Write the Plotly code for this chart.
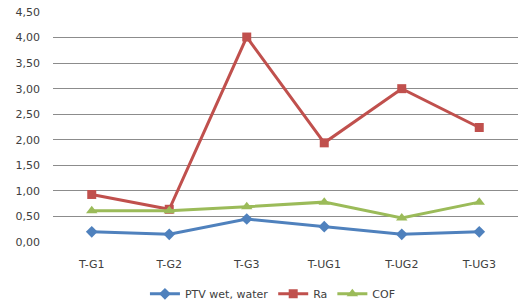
import plotly.graph_objects as go

categories = ["T-G1", "T-G2", "T-G3", "T-UG1", "T-UG2", "T-UG3"]
ptv = [0.20, 0.15, 0.45, 0.30, 0.15, 0.20]
ra = [0.93, 0.64, 4.01, 1.94, 3.00, 2.24]
cof = [0.61, 0.61, 0.69, 0.78, 0.47, 0.78]
ytick_vals = [0, 0.5, 1.0, 1.5, 2.0, 2.5, 3.0, 3.5, 4.0, 4.5]
ytick_text = ["0,00", "0,50", "1,00", "1,50", "2,00", "2,50", "3,00", "3,50", "4,00", "4,50"]

fig = go.Figure()
fig.add_trace(go.Scatter(x=categories, y=ptv, name="PTV wet, water", mode="lines+markers",
                         line=dict(color="#4F81BD", width=3),
                         marker=dict(symbol="diamond", size=9, color="#4F81BD")))
fig.add_trace(go.Scatter(x=categories, y=ra, name="Ra", mode="lines+markers",
                         line=dict(color="#C0504D", width=3),
                         marker=dict(symbol="square", size=9, color="#C0504D")))
fig.add_trace(go.Scatter(x=categories, y=cof, name="COF", mode="lines+markers",
                         line=dict(color="#9BBB59", width=3),
                         marker=dict(symbol="triangle-up", size=10, color="#9BBB59")))

fig.update_layout(
    width=523, height=307,
    margin=dict(l=53, r=5, t=12, b=65),
    paper_bgcolor="white", plot_bgcolor="white",
    font=dict(family="DejaVu Sans", size=11, color="#404040"),
    showlegend=True,
    legend=dict(orientation="h", x=0.473, xanchor="center", xref="paper",
                y=0.09, yanchor="top", yref="container",
                font=dict(size=11), itemwidth=30),
)
fig.update_xaxes(showgrid=False, showline=False, ticks="", zeroline=False,
                 range=[-0.5, 5.5], ticklabelstandoff=14, automargin=False)
fig.update_yaxes(range=[0, 4.5], tickvals=ytick_vals, ticktext=ytick_text,
                 showgrid=True, gridcolor="#8C8C8C", gridwidth=1, zeroline=False,
                 showline=False, ticks="", ticklabelstandoff=12, automargin=False)

fig.write_html("out.html", config={"displayModeBar": False},
               post_script="document.body.style.margin='0';")
